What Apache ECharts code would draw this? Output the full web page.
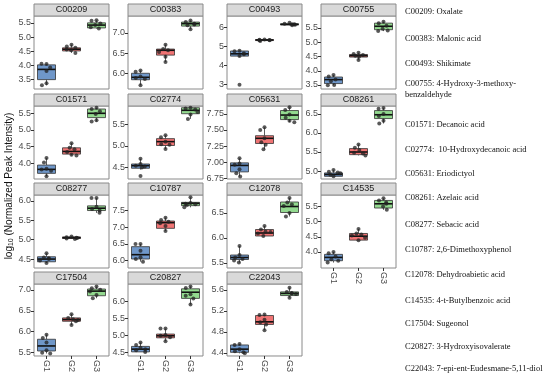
<!DOCTYPE html>
<html><head><meta charset="utf-8">
<script src="https://cdn.jsdelivr.net/npm/echarts@6/dist/echarts.min.js"></script>
<style>html,body{margin:0;padding:0;background:#fff}#c{width:550px;height:375px}</style>
</head><body><div id="c"></div>
<script>
const groups = ['G1','G2','G3'];
const compounds = ['C00209','C00383','C00493','C00755','C01571','C02774','C05631','C08261',
  'C08277','C10787','C12078','C14535','C17504','C20827','C22043'];
const compoundNames = ['C00209: Oxalate','C00383: Malonic acid','C00493: Shikimate',
  'C00755: 4-Hydroxy-3-methoxy-\nbenzaldehyde','C01571: Decanoic acid','C02774:  10-Hydroxydecanoic acid',
  'C05631: Eriodictyol','C08261: Azelaic acid','C08277: Sebacic acid','C10787: 2,6-Dimethoxyphenol',
  'C12078: Dehydroabietic acid','C14535: 4-t-Butylbenzoic acid','C17504: Sugeonol',
  'C20827: 3-Hydroxyisovalerate','C22043: 7-epi-ent-Eudesmane-5,11-diol'];
const yMin = [3.17,5.61,2.77,3.36,3.52,4.23,6.74,4.79,4.27,5.78,5.40,3.47,5.42,4.40,4.34];
const yMax = [5.74,7.42,6.61,5.92,5.72,5.93,7.87,6.71,6.15,7.97,6.86,5.88,7.14,6.50,5.71];
const yTickLabels = [
  ['3.5','4.0','4.5','5.0','5.5'],['6.0','6.5','7.0'],['3','4','5','6'],['3.5','4.0','4.5','5.0','5.5'],
  ['4.0','4.5','5.0','5.5'],['4.5','5.0','5.5'],['6.75','7.00','7.25','7.50','7.75'],['5.0','5.5','6.0','6.5'],
  ['4.5','5.0','5.5','6.0'],['6.0','6.5','7.0','7.5'],['5.5','6.0','6.5'],['4.0','4.5','5.0','5.5'],
  ['5.5','6.0','6.5','7.0'],['4.5','5.0','5.5','6.0'],['4.4','4.8','5.2','5.6']];
// [low, q1, median, q3, high] per group
const boxG1 = [[3.30,3.50,3.86,4.02,4.06],[5.70,5.84,5.90,6.00,6.07],[4.45,4.50,4.62,4.77,4.80],[3.49,3.55,3.69,3.78,3.85],
  [3.60,3.69,3.81,3.94,4.15],[4.45,4.48,4.54,4.58,4.70],[6.78,6.85,6.95,6.99,7.06],[4.86,4.86,4.91,4.95,5.03],
  [4.40,4.43,4.50,4.56,4.65],[5.97,6.05,6.18,6.42,6.50],[5.51,5.57,5.61,5.66,5.84],[3.65,3.71,3.82,3.92,4.00],
  [5.48,5.54,5.66,5.82,5.93],[4.52,4.52,4.60,4.68,4.79],[4.39,4.41,4.47,4.55,4.57]];
const boxG2 = [[4.44,4.51,4.57,4.62,4.73],[6.28,6.45,6.57,6.60,6.71],[5.30,5.32,5.35,5.37,5.39],[4.38,4.48,4.53,4.57,4.63],
  [4.23,4.27,4.35,4.46,4.60],[4.93,5.01,5.10,5.17,5.25],[7.20,7.29,7.37,7.41,7.54],[5.41,5.43,5.50,5.59,5.70],
  [5.02,5.03,5.05,5.07,5.08],[6.89,6.97,7.14,7.19,7.29],[6.04,6.04,6.10,6.17,6.24],[4.39,4.39,4.52,4.61,4.76],
  [6.16,6.25,6.29,6.33,6.42],[4.83,4.93,4.99,5.04,5.20],[4.83,4.94,4.99,5.11,5.13]];
const boxG3 = [[5.30,5.32,5.42,5.50,5.59],[7.09,7.17,7.23,7.27,7.31],[6.12,6.14,6.17,6.20,6.25],[5.39,5.44,5.56,5.67,5.72],
  [5.25,5.37,5.50,5.63,5.67],[5.63,5.75,5.83,5.89,5.90],[7.62,7.66,7.73,7.80,7.85],[6.25,6.38,6.48,6.59,6.66],
  [5.69,5.75,5.81,5.87,6.07],[7.60,7.65,7.72,7.75,7.90],[6.43,6.51,6.63,6.72,6.80],[5.39,5.45,5.59,5.70,5.77],
  [6.80,6.86,6.97,7.02,7.08],[5.90,6.08,6.26,6.36,6.43],[5.45,5.49,5.53,5.56,5.64]];
const ptsG1 = [[4.05,4.06,3.93,3.80,3.37,3.30],[6.07,6.04,5.92,5.88,5.86,5.70],[4.78,4.76,4.65,4.60,4.50,3.00],[3.85,3.80,3.69,3.63,3.50,3.49],
  [4.15,4.02,3.83,3.81,3.77,3.60],[4.70,4.58,4.54,4.52,4.50,4.30],[7.06,6.98,6.96,6.89,6.83,6.78],[5.03,4.98,4.96,4.94,4.90,4.86],
  [4.65,4.54,4.52,4.50,4.46,4.40],[6.50,6.50,6.30,6.10,6.05,5.97],[5.84,5.66,5.61,5.58,5.55,5.51],[4.00,3.96,3.85,3.76,3.71,3.65],
  [5.93,5.85,5.74,5.56,5.50,5.48],[4.79,4.72,4.64,4.60,4.57,4.52],[4.57,4.55,4.47,4.43,4.41,4.39]];
const ptsG2 = [[4.73,4.67,4.62,4.56,4.53,4.44],[6.71,6.60,6.57,6.53,6.41,6.28],[5.38,5.36,5.35,5.34,5.33,5.30],[4.63,4.59,4.55,4.53,4.50,4.38],
  [4.60,4.46,4.42,4.33,4.25,4.23],[5.25,5.20,5.10,5.04,5.03,4.93],[7.54,7.50,7.37,7.31,7.27,7.20],[5.70,5.61,5.55,5.48,5.46,5.41],
  [5.08,5.06,5.05,5.04,5.03,5.02],[7.29,7.22,7.17,7.12,7.04,6.89],[6.24,6.17,6.13,6.12,6.09,6.04],[4.76,4.61,4.58,4.54,4.47,4.39],
  [6.42,6.33,6.30,6.28,6.25,6.16],[5.20,5.20,5.01,4.99,4.95,4.83],[5.13,5.12,5.03,4.98,4.94,4.83]];
const ptsG3 = [[5.59,5.57,5.48,5.42,5.34,5.30],[7.31,7.27,7.23,7.21,7.19,7.09],[6.25,6.20,6.18,6.17,6.15,6.12],[5.72,5.67,5.58,5.47,5.41,5.39],
  [5.67,5.63,5.56,5.48,5.29,5.25],[5.89,5.87,5.85,5.79,5.73,5.63],[7.85,7.81,7.74,7.69,7.64,7.62],[6.66,6.64,6.50,6.45,6.32,6.25],
  [6.07,6.07,5.85,5.79,5.75,5.69],[7.90,7.73,7.71,7.69,7.67,7.60],[6.80,6.71,6.67,6.64,6.50,6.43],[5.77,5.70,5.63,5.59,5.50,5.39],
  [7.08,7.04,7.00,6.96,6.88,6.80],[6.43,6.38,6.20,6.16,6.08,5.90],[5.64,5.56,5.54,5.53,5.52,5.45]];

// ---- layout / style ----
const colLeft = [34,128,227,321], rowTop = [16,106,195,284];
const plotW = 75, plotH = 73, stripH = 12;
const fills = ['#6f97c9','#f07474','#93d98f'];
const legendY = [12,39,64,89,125,150,174,198,225,250,275,301,324,347,369];

const grids=[], xAxes=[], yAxes=[], series=[], graphics=[];
compounds.forEach((name,i)=>{
  const r=Math.floor(i/4), c=i%4;
  const L=colLeft[c], T=rowTop[r];
  grids.push({left:L, top:T, width:plotW, height:plotH, show:true, borderColor:'#8a8a8a', borderWidth:1, backgroundColor:'#fff'});
  const showX = (r===3) || i===11;
  xAxes.push({type:'category', gridIndex:i, data:groups, boundaryGap:true,
    jitter:14, jitterOverlap:false, jitterMargin:1,
    axisLine:{show:false}, splitLine:{show:false},
    axisTick:{show:showX, alignWithLabel:true, length:3, lineStyle:{color:'#333'}},
    axisLabel:{show:showX, rotate:-90, fontSize:9, color:'#4d4d4d', margin:4, fontFamily:'Liberation Sans'}});
  const labs = yTickLabels[i], vals = labs.map(Number);
  yAxes.push({type:'value', gridIndex:i, min:yMin[i], max:yMax[i], scale:true,
    axisLine:{show:false}, splitLine:{show:false},
    axisTick:{show:true, length:3, customValues:vals, lineStyle:{color:'#333'}},
    axisLabel:{customValues:vals, fontSize:9, color:'#4d4d4d', margin:3, fontFamily:'Liberation Sans',
      formatter:v=>{const k=vals.findIndex(t=>Math.abs(t-v)<1e-6); return k>=0?labs[k]:'';}}});
  const boxes=[boxG1[i],boxG2[i],boxG3[i]];
  series.push({type:'custom', xAxisIndex:i, yAxisIndex:i, z:2,
    data: boxes.map((b,g)=>[g].concat(b)),
    encode:{x:0, y:[1,2,3,4,5]},
    renderItem:(params,api)=>{
      const g=api.value(0);
      const lo=api.coord([g,api.value(1)]), q1=api.coord([g,api.value(2)]), md=api.coord([g,api.value(3)]),
            q3=api.coord([g,api.value(4)]), hi=api.coord([g,api.value(5)]);
      const bw=api.size([1,0])[0]*0.72, cx=md[0];
      const st={stroke:'#333', lineWidth:0.8};
      return {type:'group', children:[
        {type:'line', shape:{x1:cx,y1:hi[1],x2:cx,y2:q3[1]}, style:st},
        {type:'line', shape:{x1:cx,y1:q1[1],x2:cx,y2:lo[1]}, style:st},
        {type:'rect', shape:{x:cx-bw/2,y:q3[1],width:bw,height:Math.max(q1[1]-q3[1],1)}, style:{fill:fills[g], stroke:'#333', lineWidth:0.8}},
        {type:'line', shape:{x1:cx-bw/2,y1:md[1],x2:cx+bw/2,y2:md[1]}, style:{stroke:'#111', lineWidth:1.6}}
      ]};
    }});
  const pts=[];
  [ptsG1[i],ptsG2[i],ptsG3[i]].forEach((arr,g)=>arr.forEach(v=>pts.push([groups[g],v])));
  series.push({type:'scatter', xAxisIndex:i, yAxisIndex:i, z:5, data:pts, symbolSize:4,
    itemStyle:{color:'#222', opacity:0.75}, silent:true});
  graphics.push({type:'rect', shape:{x:L, y:T-stripH, width:plotW, height:stripH},
    style:{fill:'#d9d9d9', stroke:'#8a8a8a', lineWidth:1}});
  graphics.push({type:'text', x:L+plotW/2, y:T-stripH/2,
    style:{text:name, fontSize:9, fill:'#1a1a1a', align:'center', verticalAlign:'middle', fontFamily:'Liberation Sans'}});
});
compoundNames.forEach((t,k)=>{
  graphics.push({type:'text', x:405, y:legendY[k],
    style:{text:t, fontSize:8.5, lineHeight:11, fill:'#111', align:'left', verticalAlign:'middle', fontFamily:'Liberation Serif'}});
});
graphics.push({type:'text', x:9, y:186, rotation:Math.PI/2,
  style:{text:'log{s|10} (Normalized Peak Intensity)', fontSize:10, fill:'#111', align:'center', verticalAlign:'middle',
    fontFamily:'Liberation Sans', rich:{s:{fontSize:7, padding:[5,0,0,0], fontFamily:'Liberation Sans'}}}});

const chart = echarts.init(document.getElementById('c'), null, {renderer:'canvas'});
chart.setOption({animation:false, grid:grids, xAxis:xAxes, yAxis:yAxes, series:series, graphic:graphics});
</script></body></html>
